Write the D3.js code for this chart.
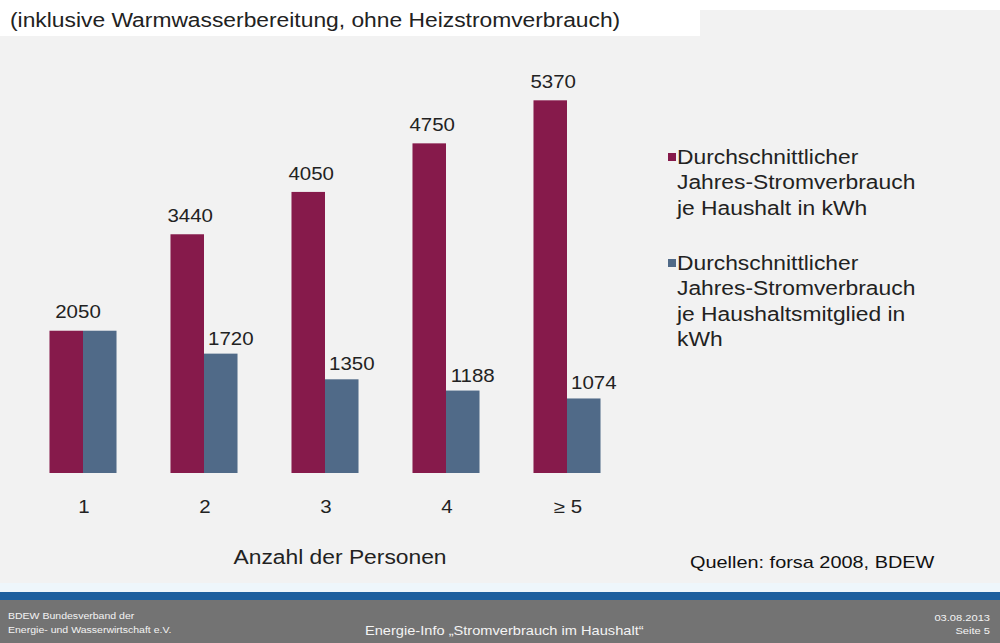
<!DOCTYPE html>
<html>
<head>
<meta charset="utf-8">
<script src="https://cdn.jsdelivr.net/npm/d3@7"></script>
<style>
  body { margin: 0; background: #f2f2f2; }
  svg { display: block; font-family: "Liberation Sans", Arial, sans-serif; }
</style>
</head>
<body>
<div class="graph"></div>
<script>
// data
var categories = ["1", "2", "3", "4", "\u2265 5"];
var perHousehold = [2050, 3440, 4050, 4750, 5370];
var perMember = [2050, 1720, 1350, 1188, 1074];
var legendHousehold = ["Durchschnittlicher", "Jahres-Stromverbrauch", "je Haushalt in kWh"];
var legendMember = ["Durchschnittlicher", "Jahres-Stromverbrauch", "je Haushaltsmitglied  in", "kWh"];

window.onload = () => {
  var width = 1000, height = 643;
  var red = "#861a4b", blue = "#506a88";
  var sx = 1.17; // slide text looks stretched horizontally

  var svg = d3.select(".graph").append("svg")
    .attr("width", width)
    .attr("height", height);

  // put text at (x,y), stretched horizontally around its anchor
  function label(parent, x, y, size, txt) {
    return parent.append("text")
      .attr("transform", "translate(" + x + "," + y + ") scale(" + sx + ",1)")
      .style("font-size", size + "px")
      .attr("fill", "#222")
      .text(txt);
  }

  svg.append("rect").attr("width", width).attr("height", height).attr("fill", "#f2f2f2");
  // white title strip
  svg.append("rect").attr("width", width).attr("height", 10).attr("fill", "#ffffff");
  svg.append("rect").attr("width", 700).attr("height", 36).attr("fill", "#ffffff");

  label(svg, 10, 27, 19.5, "(inklusive Warmwasserbereitung,  ohne Heizstromverbrauch)");

  var x = d3.scaleBand()
    .domain(categories)
    .range([22.5, 627.5])
    .paddingInner(0.446)
    .paddingOuter(0.223);

  var xSub = d3.scaleBand()
    .domain(["hh", "pp"])
    .range([0, x.bandwidth()]);

  var y = d3.scaleLinear()
    .domain([0, 6000])
    .range([473, 473 - 6000 * 0.0694]);

  var rows = categories.map(function (c, i) {
    return { cat: c, hh: perHousehold[i], pp: perMember[i] };
  });

  var g = svg.append("g");

  var groups = g.selectAll("g.cat")
    .data(rows)
    .enter().append("g")
    .attr("class", "cat")
    .attr("transform", function (d) { return "translate(" + x(d.cat) + ",0)"; });

  groups.append("rect")
    .attr("x", xSub("hh"))
    .attr("y", function (d) { return y(d.hh); })
    .attr("width", xSub.bandwidth())
    .attr("height", function (d) { return y(0) - y(d.hh); })
    .attr("fill", red);

  groups.append("rect")
    .attr("x", xSub("pp"))
    .attr("y", function (d) { return y(d.pp); })
    .attr("width", xSub.bandwidth())
    .attr("height", function (d) { return y(0) - y(d.pp); })
    .attr("fill", blue);

  // value labels
  groups.each(function (d) {
    var grp = d3.select(this);
    if (d.hh === d.pp) {
      label(grp, x.bandwidth() / 2 - 5, y(d.hh) - 13, 17.5, d.hh).attr("text-anchor", "middle");
    } else {
      label(grp, xSub("hh") + xSub.bandwidth() / 2 + 3, y(d.hh) - 12, 17.5, d.hh).attr("text-anchor", "middle");
      label(grp, xSub("pp") + xSub.bandwidth() / 2 + 10, y(d.pp) - 9, 17.5, d.pp).attr("text-anchor", "middle");
    }
  });

  // category axis (no line, labels only)
  var axis = svg.append("g")
    .attr("transform", "translate(0,473)")
    .call(d3.axisBottom(x).tickSize(0).tickPadding(0));
  axis.select(".domain").remove();
  axis.selectAll(".tick text")
    .attr("y", 0).attr("dy", 0)
    .attr("transform", "translate(1,40) scale(" + sx + ",1)")
    .style("font-size", "17.5px")
    .style("font-family", "Liberation Sans, Arial, sans-serif")
    .attr("fill", "#222");

  label(svg, 340, 564, 19.5, "Anzahl der Personen").attr("text-anchor", "middle");

  // legend
  var legend = svg.append("g").attr("transform", "translate(668,0)");
  var legItems = [
    { color: red, lines: legendHousehold, top: 164 },
    { color: blue, lines: legendMember, top: 270 }
  ];
  legItems.forEach(function (it) {
    legend.append("rect")
      .attr("x", 0).attr("y", it.top - 11)
      .attr("width", 8).attr("height", 8)
      .attr("fill", it.color);
    label(legend, 9, it.top, 19.5, null)
      .selectAll("tspan")
      .data(it.lines)
      .enter().append("tspan")
      .attr("x", 0)
      .attr("dy", function (d, i) { return i === 0 ? 0 : 25.5; })
      .text(function (d) { return d; });
  });

  label(svg, 690, 568, 17, "Quellen: forsa 2008, BDEW").attr("fill", "#111");

  // footer
  svg.append("rect").attr("x", 0).attr("y", 583).attr("width", width).attr("height", 9).attr("fill", "#eef6fb");
  svg.append("rect").attr("x", 0).attr("y", 592).attr("width", width).attr("height", 8).attr("fill", "#1d5f9e");
  svg.append("rect").attr("x", 0).attr("y", 600).attr("width", width).attr("height", 43).attr("fill", "#737373");

  var foot = svg.append("g");
  label(foot, 8, 619, 9, "BDEW Bundesverband der").attr("fill", "#f4f4f4");
  label(foot, 8, 633, 9, "Energie- und Wasserwirtschaft e.V.").attr("fill", "#f4f4f4");
  label(foot, 365, 635, 12.5, "Energie-Info \u201EStromverbrauch im Haushalt\u201C").attr("fill", "#f4f4f4");
  label(foot, 990, 621, 9.5, "03.08.2013").attr("fill", "#f4f4f4").attr("text-anchor", "end");
  label(foot, 990, 634, 9.5, "Seite 5").attr("fill", "#f4f4f4").attr("text-anchor", "end");
};
</script>
</body>
</html>
